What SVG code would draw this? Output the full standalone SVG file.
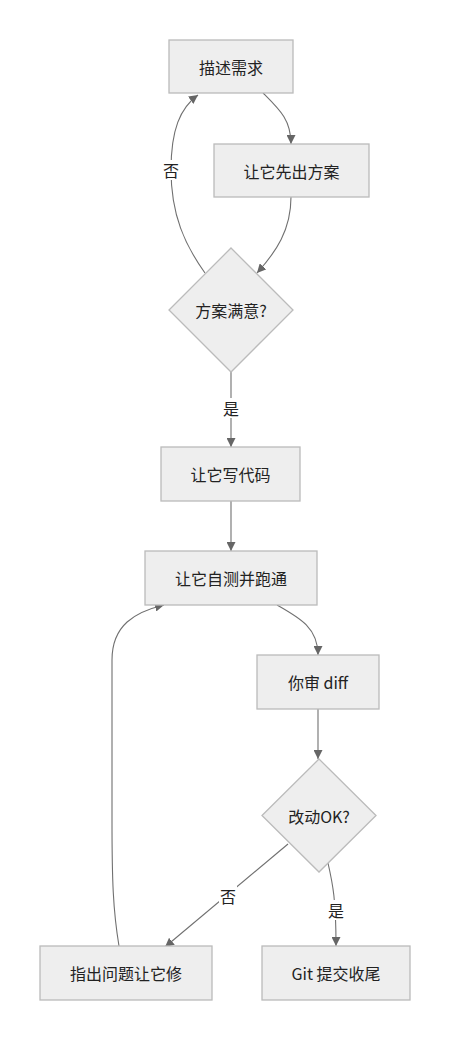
<svg xmlns="http://www.w3.org/2000/svg" width="451" height="1041" viewBox="0 0 451 1041">
<style>
.node rect, .node polygon { fill: #eeeeee; stroke: #bbbbbb; stroke-width: 1.3; }
.node text, .lbl text { font-family: "Noto Sans CJK SC", "Noto Sans", sans-serif; font-size: 16px; fill: #222; text-anchor: middle; dominant-baseline: central; }
.edges path { fill: none; stroke: #707070; stroke-width: 1.1; }
.lbl rect { fill: #ffffff; }
</style>
<defs>
<marker id="arr" viewBox="0 0 10 10" refX="10" refY="5" markerWidth="9" markerHeight="9" markerUnits="userSpaceOnUse" orient="auto">
<path d="M0,0 L10,5 L0,10 z" fill="#666666"/>
</marker>
</defs>
<rect width="451" height="1041" fill="#ffffff"/>
<g id="edges" class="edges">
<path d="M263,93 C280,110 291,120 291,144" marker-end="url(#arr)"/>
<path d="M291,197 C291,230 276,252 257,273" marker-end="url(#arr)"/>
<path d="M205,273 C185,245 171,215 171,170 C171,130 180,108 198,95" marker-end="url(#arr)"/>
<path d="M231,372 L231,447" marker-end="url(#arr)"/>
<path d="M231,501 L231,551" marker-end="url(#arr)"/>
<path d="M277,605 C300,618 318,628 318,655" marker-end="url(#arr)"/>
<path d="M318,709 L318,759" marker-end="url(#arr)"/>
<path d="M288,844 L165,947" marker-end="url(#arr)"/>
<path d="M328,863 C333,885 336,900 336,946" marker-end="url(#arr)"/>
<path d="M119,946 C113,910 112,880 112,820 L112,660 C112,625 135,612 164,605" marker-end="url(#arr)"/>
</g>
<g id="labels" class="lbl">
<g id="lbl-no1"><rect x="162" y="160" width="18" height="20"/><text x="171" y="170">否</text></g>
<g id="lbl-yes1"><rect x="222" y="398" width="18" height="20"/><text x="231" y="408">是</text></g>
<g id="lbl-no2"><rect x="219" y="886" width="18" height="20"/><text x="228" y="896">否</text></g>
<g id="lbl-yes2"><rect x="327" y="900" width="18" height="20"/><text x="336" y="910">是</text></g>
</g>
<g id="n1" class="node"><rect x="169" y="40" width="124" height="53"/><text x="231" y="66.5">描述需求</text></g>
<g id="n2" class="node"><rect x="214" y="144" width="155" height="53"/><text x="291.5" y="170.5">让它先出方案</text></g>
<g id="n3" class="node"><polygon points="231,248 293,310 231,372 169,310"/><text x="231" y="310">方案满意?</text></g>
<g id="n4" class="node"><rect x="161" y="447" width="139" height="54"/><text x="230.5" y="474">让它写代码</text></g>
<g id="n5" class="node"><rect x="145" y="551" width="172" height="54"/><text x="231" y="578">让它自测并跑通</text></g>
<g id="n6" class="node"><rect x="257" y="655" width="122" height="54"/><text x="318" y="682">你审 diff</text></g>
<g id="n7" class="node"><polygon points="319,759 376,815.5 319,872 262,815.5"/><text x="319" y="815.5">改动OK?</text></g>
<g id="n8" class="node"><rect x="40" y="946" width="172" height="54"/><text x="126" y="973">指出问题让它修</text></g>
<g id="n9" class="node"><rect x="262" y="946" width="148" height="54"/><text x="336" y="973">Git 提交收尾</text></g>
</svg>
